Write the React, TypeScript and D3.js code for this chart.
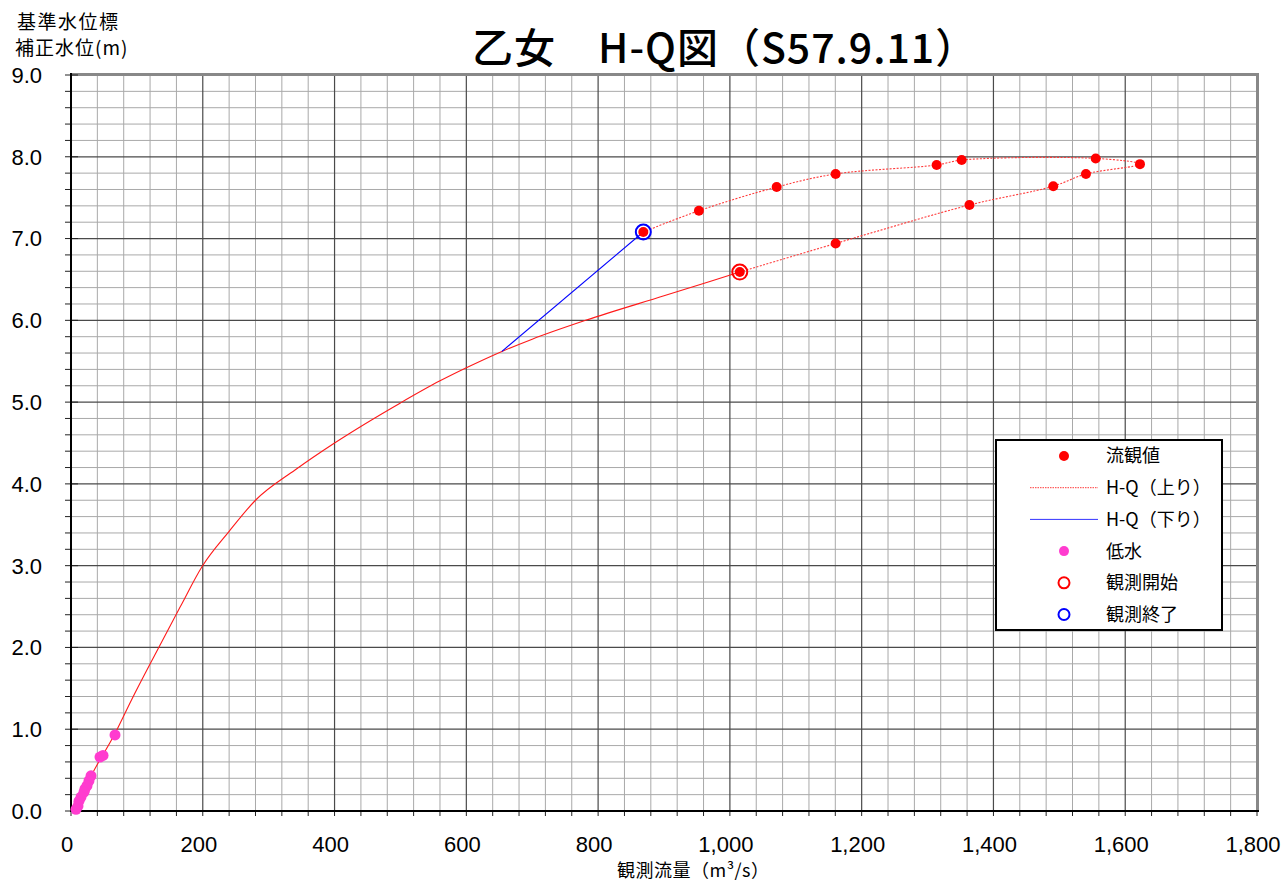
import React, { useRef, useEffect } from 'react';
import * as d3 from 'd3';

// 低水 (low water) observations
const lowQ = [66.8, 44, 48.6, 30.4, 27.3, 24.3, 21.2, 19.7, 15.2, 12.1, 10.6, 7.6];
const lowH = [0.93, 0.66, 0.68, 0.43, 0.37, 0.31, 0.27, 0.23, 0.17, 0.12, 0.06, 0.02];

// 流観値 in time order (start -> peak -> end)
const obsQ = [1015, 1160.5, 1363.6, 1490.8, 1540.4, 1622.4, 1555.2, 1351.8, 1313.8, 1160.5, 1071, 953, 868.6];
const obsH = [6.59, 6.94, 7.41, 7.64, 7.79, 7.91, 7.98, 7.96, 7.90, 7.79, 7.63, 7.34, 7.08];

// H-Q rating curve
const curveQ = [6, 30, 67, 92, 130, 166, 199, 240, 280, 340, 400, 500, 560, 600, 654, 700, 781, 900, 1015];
const curveH = [0, 0.42, 0.95, 1.36, 1.95, 2.5, 2.99, 3.42, 3.8, 4.17, 4.5, 4.99, 5.26, 5.42, 5.62, 5.77, 6.0, 6.3, 6.59];

// blue connector from last observation back to the curve
const fallQ = [868.6, 654];
const fallH = [7.08, 5.62];

const xTicks = [0, 200, 400, 600, 800, 1000, 1200, 1400, 1600, 1800];
const yTicks = [0, 1, 2, 3, 4, 5, 6, 7, 8, 9];
const legendLabels = ['流観値', 'H-Q（上り）', 'H-Q（下り）', '低水', '観測開始', '観測終了'];

const W = 1286;
const H = 881;
const JP = '"Noto Sans CJK JP", sans-serif';
const NUM = '"Liberation Sans", Arial, sans-serif';

const App: React.FC = () => {
    const ref = useRef<SVGSVGElement>(null);

    useEffect(() => {
        if (!ref.current) return;
        const svg = d3.select(ref.current);
        svg.selectAll('*').remove();

        const left = 71, right = 1257, top = 75, bottom = 811;
        const x = d3.scaleLinear().domain([0, 1800]).range([left, right]);
        const y = d3.scaleLinear().domain([0, 9]).range([bottom, top]);

        svg.append('rect').attr('width', W).attr('height', H).attr('fill', '#fff');

        // grid
        const grid = svg.append('g');
        const minorX = d3.range(0, 1801, 40);
        const minorY = d3.range(0, 9.001, 0.2);
        grid.selectAll('.mx').data(minorX.filter(v => v % 200 !== 0)).enter().append('line')
            .attr('x1', d => x(d)).attr('x2', d => x(d)).attr('y1', top).attr('y2', bottom)
            .attr('stroke', '#a9a9a9').attr('stroke-width', 1);
        grid.selectAll('.my').data(minorY.filter(v => Math.abs(v - Math.round(v)) > 0.01)).enter().append('line')
            .attr('y1', d => y(d)).attr('y2', d => y(d)).attr('x1', left).attr('x2', right)
            .attr('stroke', '#a9a9a9').attr('stroke-width', 1);
        grid.selectAll('.Mx').data(xTicks.slice(1, -1)).enter().append('line')
            .attr('x1', d => x(d)).attr('x2', d => x(d)).attr('y1', top).attr('y2', bottom)
            .attr('stroke', '#4a4a4a').attr('stroke-width', 1.2);
        grid.selectAll('.My').data(yTicks.slice(1, -1)).enter().append('line')
            .attr('y1', d => y(d)).attr('y2', d => y(d)).attr('x1', left).attr('x2', right)
            .attr('stroke', '#4a4a4a').attr('stroke-width', 1.2);

        // frame (top / right grey, axes black)
        svg.append('line').attr('x1', left).attr('x2', right + 1).attr('y1', top - 0.5).attr('y2', top - 0.5)
            .attr('stroke', '#888').attr('stroke-width', 3);
        svg.append('line').attr('x1', right + 0.5).attr('x2', right + 0.5).attr('y1', top - 2).attr('y2', bottom)
            .attr('stroke', '#888').attr('stroke-width', 3);

        // tick marks
        svg.selectAll('.ty').data(minorY).enter().append('line')
            .attr('x1', left - 6)
            .attr('x2', d => (Math.abs(d - Math.round(d)) < 0.01 ? left + 7 : left))
            .attr('y1', d => y(d)).attr('y2', d => y(d))
            .attr('stroke', '#222').attr('stroke-width', 1);
        svg.selectAll('.tx').data(minorX).enter().append('line')
            .attr('x1', d => x(d)).attr('x2', d => x(d))
            .attr('y1', bottom).attr('y2', bottom + 5)
            .attr('stroke', '#222').attr('stroke-width', 1);

        svg.append('line').attr('x1', left).attr('x2', left).attr('y1', top - 2).attr('y2', bottom + 1)
            .attr('stroke', '#000').attr('stroke-width', 2);
        svg.append('line').attr('x1', left - 1).attr('x2', right + 2).attr('y1', bottom).attr('y2', bottom)
            .attr('stroke', '#000').attr('stroke-width', 2);

        // tick labels
        svg.selectAll('.yl').data(yTicks).enter().append('text')
            .attr('x', 42).attr('y', d => y(d)).attr('dy', '0.36em')
            .attr('text-anchor', 'end').attr('font-family', NUM).attr('font-size', 22)
            .text(d => d3.format('.1f')(d));
        svg.selectAll('.xl').data(xTicks).enter().append('text')
            .attr('x', d => x(d) - 4).attr('y', 852)
            .attr('text-anchor', 'middle').attr('font-family', NUM).attr('font-size', 22)
            .text(d => d3.format(',')(d));

        // titles
        svg.append('text').attr('x', 472).attr('y', 63)
            .attr('font-family', JP).attr('font-size', 41).attr('font-weight', 500)
            .attr('letter-spacing', 1)
            .text('乙女　H-Q図（S57.9.11）');
        svg.append('text').attr('x', 17).attr('y', 29).attr('font-family', JP).attr('font-size', 19)
            .attr('letter-spacing', 1.5)
            .text('基準水位標');
        svg.append('text').attr('x', 15).attr('y', 55).attr('font-family', JP).attr('font-size', 19)
            .attr('letter-spacing', 1)
            .text('補正水位(m)');
        svg.append('text').attr('x', 617).attr('y', 877).attr('font-family', JP).attr('font-size', 18)
            .attr('letter-spacing', 0.5)
            .text('観測流量（m³/s）');

        const pts = (qs: number[], hs: number[]) => qs.map((q, i) => [x(q), y(hs[i])] as [number, number]);

        // rating curve (solid red)
        svg.append('path').attr('d', d3.line().curve(d3.curveMonotoneX)(pts(curveQ, curveH)))
            .attr('fill', 'none').attr('stroke', '#ff1a1a').attr('stroke-width', 1.1);
        // loop (dotted red)
        svg.append('path').attr('d', d3.line().curve(d3.curveCatmullRom.alpha(0.5))(pts(obsQ, obsH)))
            .attr('fill', 'none').attr('stroke', '#ff3b3b').attr('stroke-width', 1.1)
            .attr('stroke-dasharray', '2 1.5');
        // blue connector
        svg.append('path').attr('d', d3.line()(pts(fallQ, fallH)))
            .attr('fill', 'none').attr('stroke', '#0000ff').attr('stroke-width', 1.1);

        // low water points
        svg.selectAll('.low').data(pts(lowQ, lowH)).enter().append('circle')
            .attr('cx', d => d[0]).attr('cy', d => d[1]).attr('r', 5.5).attr('fill', '#ff3ccf');
        // observed points
        svg.selectAll('.obs').data(pts(obsQ, obsH)).enter().append('circle')
            .attr('cx', d => d[0]).attr('cy', d => d[1]).attr('r', 5).attr('fill', '#ff0000');
        // start / end rings
        svg.append('circle').attr('cx', x(obsQ[0])).attr('cy', y(obsH[0])).attr('r', 7.5)
            .attr('fill', 'none').attr('stroke', '#ff0000').attr('stroke-width', 2);
        const n = obsQ.length - 1;
        svg.append('circle').attr('cx', x(obsQ[n])).attr('cy', y(obsH[n])).attr('r', 7.5)
            .attr('fill', 'none').attr('stroke', '#0000ff').attr('stroke-width', 2);

        // legend
        const lg = svg.append('g');
        lg.append('rect').attr('x', 996).attr('y', 440).attr('width', 226).attr('height', 190)
            .attr('fill', '#fff').attr('stroke', '#000').attr('stroke-width', 2);
        const rowY = (i: number) => 456 + i * 31.7;
        const sx = 1064;
        lg.append('circle').attr('cx', sx).attr('cy', rowY(0)).attr('r', 5).attr('fill', '#ff0000');
        lg.append('line').attr('x1', 1030).attr('x2', 1098).attr('y1', rowY(1)).attr('y2', rowY(1))
            .attr('stroke', '#ff3b3b').attr('stroke-width', 1).attr('stroke-dasharray', '1.5 1');
        lg.append('line').attr('x1', 1030).attr('x2', 1098).attr('y1', rowY(2)).attr('y2', rowY(2))
            .attr('stroke', '#3333ff').attr('stroke-width', 1);
        lg.append('circle').attr('cx', sx).attr('cy', rowY(3)).attr('r', 5).attr('fill', '#ff3ccf');
        lg.append('circle').attr('cx', sx).attr('cy', rowY(4)).attr('r', 5.5)
            .attr('fill', 'none').attr('stroke', '#ff0000').attr('stroke-width', 2);
        lg.append('circle').attr('cx', sx).attr('cy', rowY(5)).attr('r', 5.5)
            .attr('fill', 'none').attr('stroke', '#0000ff').attr('stroke-width', 2);
        lg.selectAll('.lt').data(legendLabels).enter().append('text')
            .attr('x', 1106).attr('y', (d, i) => rowY(i)).attr('dy', '0.36em')
            .attr('font-family', JP).attr('font-size', 18)
            .text(d => d);
    }, []);

    return (
        <svg ref={ref} width={W} height={H}
            style={{ position: 'absolute', left: 0, top: 0, display: 'block' }}></svg>
    );
};

export default App;
